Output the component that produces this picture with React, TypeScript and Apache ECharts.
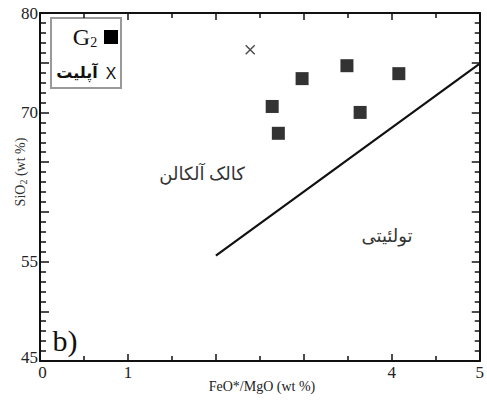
import React, { useEffect, useRef } from "react";
import * as echarts from "echarts";

const g2Points: [number, number][] = [
  [2.64, 70.6],
  [2.71, 67.9],
  [2.98, 73.4],
  [3.49, 74.7],
  [3.64, 70.0],
  [4.08, 73.9],
];
const aplitePoints: [number, number][] = [[2.39, 76.3]];
const boundaryLine: [number, number][] = [
  [2.0, 55.6],
  [5.0, 74.9],
];
const xTickLabels = [0, 1, 4, 5];
const yTickLabels = [45, 55, 70, 80];

const SERIF = "'Liberation Serif', 'DejaVu Serif', serif";
const SANS = "'Noto Sans', 'DejaVu Sans', sans-serif";

const mkLine = () => ({ show: true, onZero: false, lineStyle: { color: "#111", width: 2 } });
const mkTick = (len: number) => ({ show: true, inside: true, length: len, lineStyle: { color: "#111", width: 1.5 } });
const mkMinor = (n: number, len: number) => ({ show: true, splitNumber: n, length: len, lineStyle: { color: "#111", width: 1.5 } });

export default function App() {
  const ref = useRef<HTMLDivElement>(null);
  useEffect(() => {
    const chart = echarts.init(ref.current!, undefined, { renderer: "svg" });
    chart.setOption({
      animation: false,
      backgroundColor: "#fff",
      grid: { left: 40, right: 3, top: 13, bottom: 40 },
      xAxis: [
        {
          type: "value",
          min: 0,
          max: 5,
          interval: 1,
          position: "bottom",
          axisLine: mkLine(),
          axisTick: mkTick(7),
          minorTick: mkMinor(2, 5),
          splitLine: { show: false },
          axisLabel: {
            fontFamily: SERIF,
            fontSize: 17,
            color: "#222",
            margin: 3,
            formatter: (v: number) =>
              xTickLabels.includes(v) ? (v === 0 ? "{z|0}" : String(v)) : "",
            rich: { z: { fontFamily: SERIF, fontSize: 17, color: "#222", padding: [0, 0, 0, 5] } },
          },
        },
        {
          type: "value",
          min: 0,
          max: 5,
          interval: 1,
          position: "top",
          axisLine: mkLine(),
          axisTick: mkTick(7),
          minorTick: mkMinor(2, 5),
          splitLine: { show: false },
          axisLabel: { show: false },
        },
      ],
      yAxis: [
        {
          type: "value",
          min: 45,
          max: 80,
          interval: 5,
          position: "left",
          axisLine: mkLine(),
          axisTick: mkTick(9),
          minorTick: mkMinor(5, 6),
          splitLine: { show: false },
          axisLabel: {
            fontFamily: SERIF,
            fontSize: 17,
            color: "#222",
            margin: 2,
            formatter: (v: number) =>
              yTickLabels.includes(v) ? (v === 45 ? "{f|45}" : String(v)) : "",
            rich: { f: { fontFamily: SERIF, fontSize: 17, color: "#222", padding: [0, 0, 8, 0] } },
          },
        },
        {
          type: "value",
          min: 45,
          max: 80,
          interval: 5,
          position: "right",
          axisLine: mkLine(),
          axisTick: mkTick(8),
          minorTick: mkMinor(5, 5),
          splitLine: { show: false },
          axisLabel: { show: false },
        },
      ],
      series: [
        {
          type: "line",
          data: boundaryLine,
          symbol: "none",
          lineStyle: { color: "#111", width: 2.2 },
          silent: true,
        },
        {
          type: "scatter",
          data: g2Points,
          symbol: "rect",
          symbolSize: 13,
          itemStyle: { color: "#000" },
        },
        {
          type: "scatter",
          data: aplitePoints,
          symbol: "path://M0,0L10,10M10,0L0,10",
          symbolSize: 9,
          itemStyle: { color: "none", borderColor: "#222", borderWidth: 1.5 },
        },
      ],
      graphic: [
        {
          type: "rect",
          shape: { x: 51, y: 18, width: 70, height: 70 },
          style: { fill: "#fff", stroke: "#999", lineWidth: 2 },
        },
        {
          type: "text",
          x: 85,
          y: 37,
          style: {
            text: "{a|G}{s|2}",
            align: "center",
            verticalAlign: "middle",
            rich: {
              a: { fontFamily: SERIF, fontSize: 24, fill: "#111" },
              s: { fontFamily: SERIF, fontSize: 14, fill: "#111", verticalAlign: "bottom", padding: [10, 0, 0, 0] },
            },
          },
        },
        {
          type: "rect",
          shape: { x: 104, y: 30, width: 14, height: 14 },
          style: { fill: "#000" },
        },
        {
          type: "text",
          x: 77,
          y: 72,
          style: {
            text: "آپلیت",
            align: "center",
            verticalAlign: "middle",
            fontFamily: SANS,
            fontWeight: "bold",
            fontSize: 16,
            fill: "#111",
          },
        },
        {
          type: "text",
          x: 111,
          y: 72,
          style: {
            text: "X",
            align: "center",
            verticalAlign: "middle",
            fontFamily: SANS,
            fontSize: 17,
            fill: "#111",
          },
        },
        {
          type: "text",
          x: 202,
          y: 173,
          style: {
            text: "کالک آلکالن",
            align: "center",
            verticalAlign: "middle",
            fontFamily: SANS,
            fontSize: 18,
            fill: "#333",
          },
        },
        {
          type: "text",
          x: 387,
          y: 235,
          style: {
            text: "تولئیتی",
            align: "center",
            verticalAlign: "middle",
            fontFamily: SANS,
            fontSize: 18,
            fill: "#333",
          },
        },
        {
          type: "text",
          x: 65,
          y: 340,
          style: {
            text: "b)",
            align: "center",
            verticalAlign: "middle",
            fontFamily: SERIF,
            fontSize: 30,
            fill: "#111",
          },
        },
        {
          type: "text",
          x: 262,
          y: 386,
          style: {
            text: "FeO*/MgO (wt %)",
            align: "center",
            verticalAlign: "middle",
            fontFamily: SERIF,
            fontSize: 14,
            fill: "#222",
          },
        },
        {
          type: "text",
          x: 20,
          y: 172,
          rotation: Math.PI / 2,
          style: {
            text: "{a|SiO}{s|2}{a| (wt %)}",
            align: "center",
            verticalAlign: "middle",
            rich: {
              a: { fontFamily: SERIF, fontSize: 14, fill: "#333" },
              s: { fontFamily: SERIF, fontSize: 10, fill: "#333", padding: [6, 0, 0, 0] },
            },
          },
        },
      ],
    });
    return () => chart.dispose();
  }, []);
  return (
    <div
      ref={ref}
      style={{ position: "fixed", left: 0, top: 0, width: 487, height: 401 }}
    />
  );
}
